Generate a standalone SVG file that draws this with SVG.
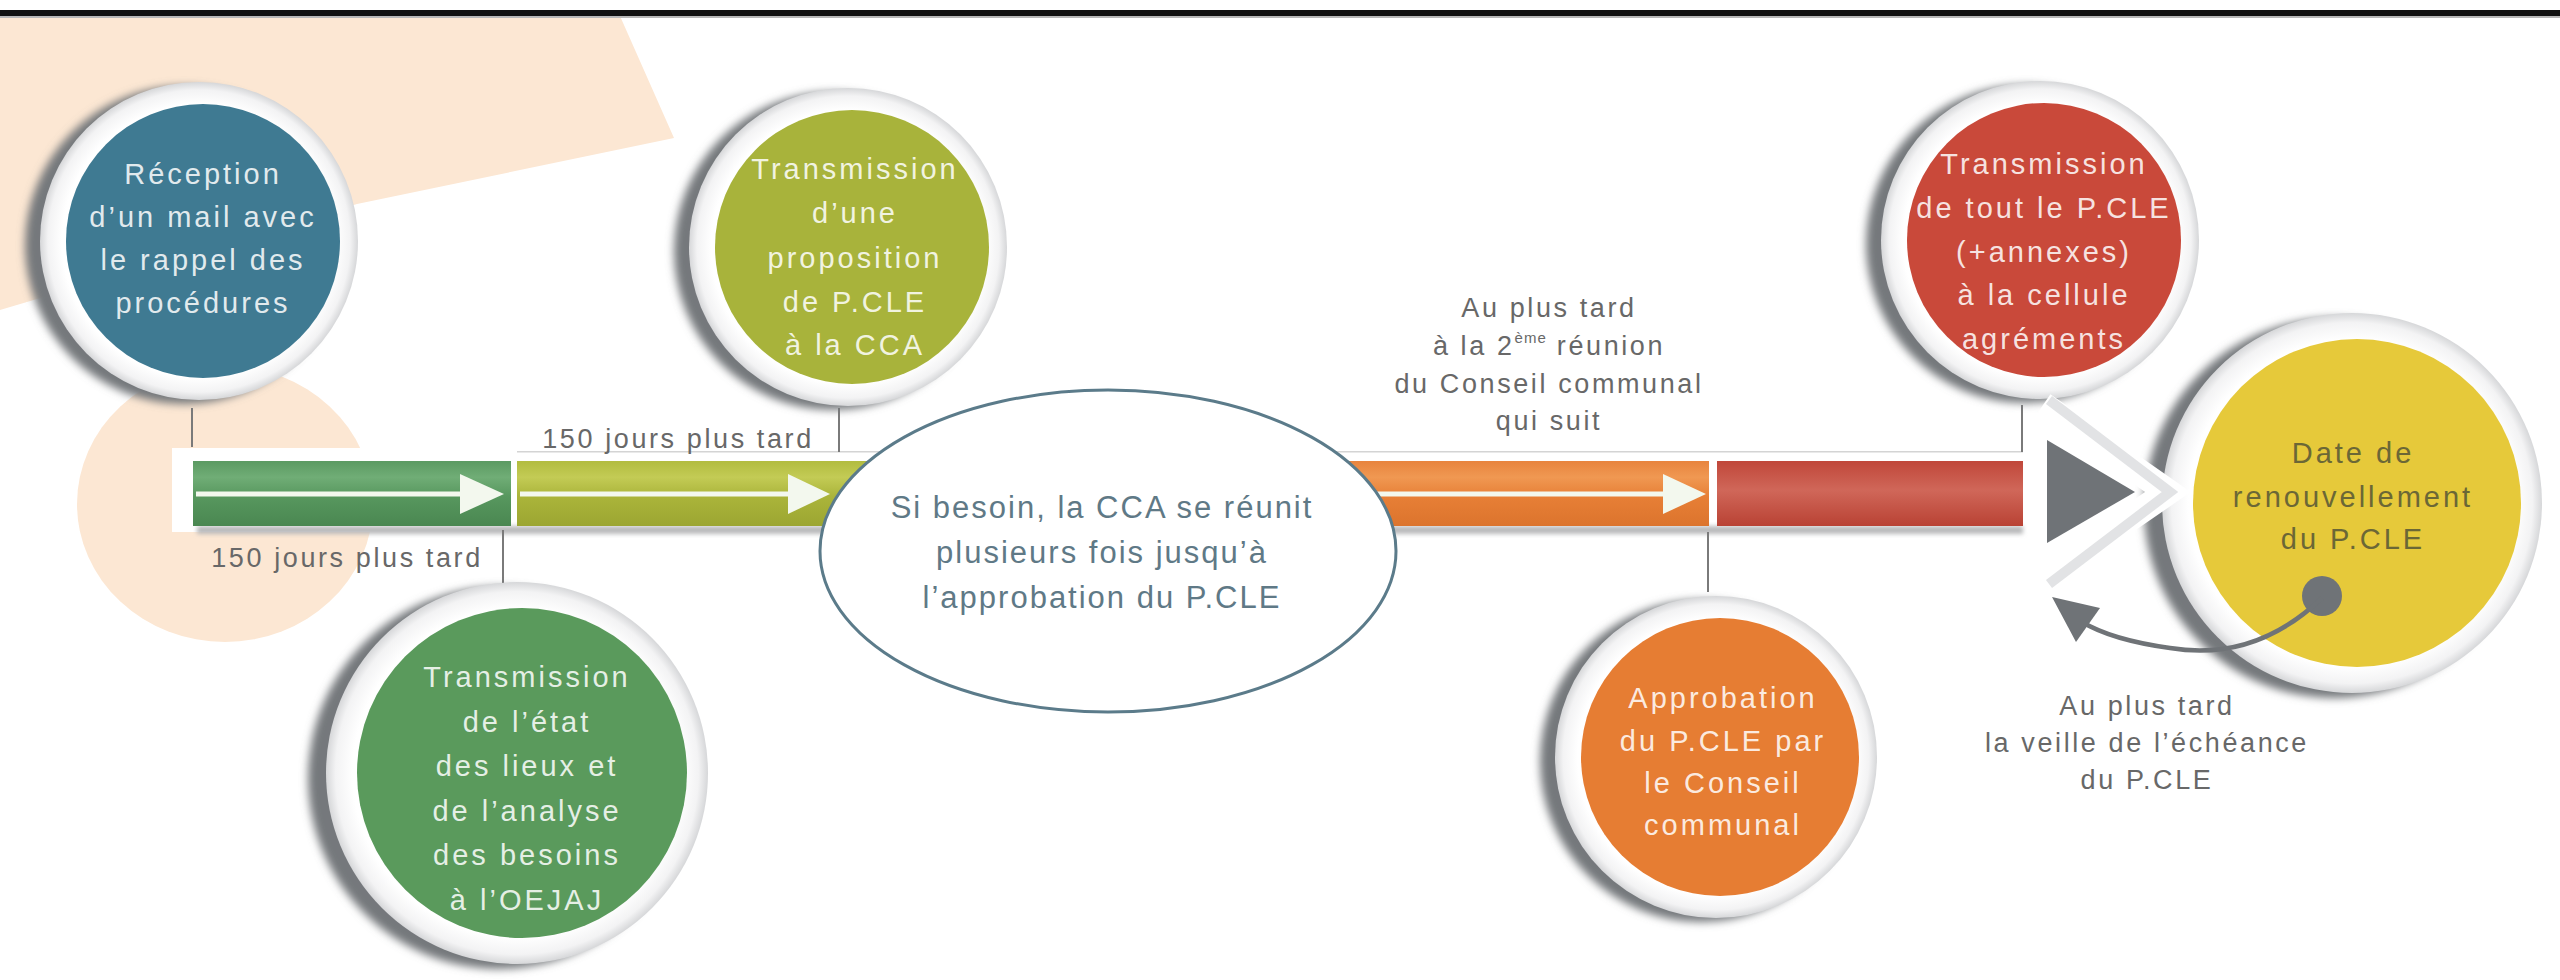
<svg xmlns="http://www.w3.org/2000/svg" width="2560" height="980" viewBox="0 0 2560 980">
<defs>
<style>
.lbl{font-family:"Liberation Sans",Arial,sans-serif;font-size:27px;letter-spacing:2.6px;fill:#686868;text-anchor:middle}
.ct{font-family:"Liberation Sans",Arial,sans-serif;font-size:29px;letter-spacing:3px;fill:#ffffff;fill-opacity:0.86;text-anchor:middle}
.yt{font-family:"Liberation Sans",Arial,sans-serif;font-size:29px;letter-spacing:3px;fill:#6b6736;text-anchor:middle}
.et{font-family:"Liberation Sans",Arial,sans-serif;font-size:31px;letter-spacing:2px;fill:#5f7986;text-anchor:middle}
.shadow{fill:#75787b;filter:url(#blur)}
.ring{fill:url(#ringG)}
.tick{stroke:#7a7a7a;stroke-width:2;fill:none}
.arr{fill:#f3f8ee}
.arrl{stroke:#f3f8ee;stroke-width:5}
</style>
<filter id="blur" x="-20%" y="-20%" width="140%" height="140%"><feGaussianBlur stdDeviation="4"/></filter>
<filter id="blur2" x="-5%" y="-100%" width="110%" height="300%"><feGaussianBlur stdDeviation="2"/></filter>
<radialGradient id="ringG" cx="0.5" cy="0.5" r="0.5">
<stop offset="0" stop-color="#ffffff"/><stop offset="0.86" stop-color="#ffffff"/><stop offset="0.95" stop-color="#f3f3f4"/><stop offset="1" stop-color="#d6d7d9"/>
</radialGradient>
<linearGradient id="gGreen" x1="0" y1="0" x2="0" y2="1"><stop offset="0" stop-color="#5b9a62"/><stop offset="0.25" stop-color="#70ad76"/><stop offset="0.55" stop-color="#57975e"/><stop offset="1" stop-color="#4a8751"/></linearGradient>
<linearGradient id="gLime" x1="0" y1="0" x2="0" y2="1"><stop offset="0" stop-color="#b2bc3f"/><stop offset="0.25" stop-color="#c3cb55"/><stop offset="0.55" stop-color="#aab43a"/><stop offset="1" stop-color="#9ca632"/></linearGradient>
<linearGradient id="gOrange" x1="0" y1="0" x2="0" y2="1"><stop offset="0" stop-color="#e8843e"/><stop offset="0.25" stop-color="#f09852"/><stop offset="0.55" stop-color="#e77f36"/><stop offset="1" stop-color="#dc742d"/></linearGradient>
<linearGradient id="gRed" x1="0" y1="0" x2="0" y2="1"><stop offset="0" stop-color="#c0473a"/><stop offset="0.45" stop-color="#d06759"/><stop offset="1" stop-color="#b94234"/></linearGradient>
</defs>

<rect x="0" y="0" width="2560" height="980" fill="#ffffff"/>

<g id="background">
<polygon points="0,16 620,16 674,138 357,204 0,310" fill="#fce7d3"/>
<ellipse cx="225" cy="504" rx="148" ry="138" fill="#fce7d3"/>
<rect x="0" y="10" width="2560" height="6" fill="#111111"/>
<rect x="0" y="16" width="2560" height="2" fill="#b8b8b8"/>
</g>

<g id="timeline">
<rect x="172" y="448" width="1858" height="84" fill="#ffffff"/>
<rect x="517" y="451" width="1506" height="1.5" fill="#d4d4d4"/>
<rect x="197" y="526" width="1826" height="8" fill="#b9babb" filter="url(#blur2)"/>
<rect x="193" y="461" width="318" height="65" fill="url(#gGreen)"/>
<rect x="517" y="461" width="360" height="65" fill="url(#gLime)"/>
<rect x="1340" y="461" width="369" height="65" fill="url(#gOrange)"/>
<rect x="1717" y="461" width="306" height="65" fill="url(#gRed)"/>
<line class="arrl" x1="196" y1="494" x2="462" y2="494"/>
<polygon class="arr" points="460,474 504,494 460,514"/>
<line class="arrl" x1="520" y1="494" x2="790" y2="494"/>
<polygon class="arr" points="788,474 830,494 788,514"/>
<line class="arrl" x1="1345" y1="494" x2="1665" y2="494"/>
<polygon class="arr" points="1663,474 1706,494 1663,514"/>
</g>

<g id="connectors">
<line class="tick" x1="192" y1="408" x2="192" y2="447"/>
<line class="tick" x1="839" y1="408" x2="839" y2="452"/>
<line class="tick" x1="503" y1="530" x2="503" y2="583"/>
<line class="tick" x1="1708" y1="532" x2="1708" y2="592"/>
<line class="tick" x1="2022" y1="405" x2="2022" y2="452"/>
</g>

<g id="labels">
<text class="lbl" x="678" y="448">150 jours plus tard</text>
<text class="lbl" x="347" y="567">150 jours plus tard</text>
<text class="lbl" x="1549" y="317">Au plus tard</text>
<text class="lbl" x="1549" y="355">à la 2<tspan font-size="15" dy="-12" letter-spacing="1">ème</tspan><tspan dy="12"> réunion</tspan></text>
<text class="lbl" x="1549" y="393">du Conseil communal</text>
<text class="lbl" x="1549" y="430">qui suit</text>
<text class="lbl" x="2147" y="715">Au plus tard</text>
<text class="lbl" x="2147" y="752">la veille de l’échéance</text>
<text class="lbl" x="2147" y="789">du P.CLE</text>
</g>

<g id="n-reception">
<circle class="shadow" cx="184" cy="245" r="159"/>
<circle class="ring" cx="199" cy="241" r="159"/>
<circle cx="203" cy="241" r="137" fill="#3f7a92"/>
<text class="ct" x="203" y="184">Réception</text>
<text class="ct" x="203" y="227">d’un mail avec</text>
<text class="ct" x="203" y="270">le rappel des</text>
<text class="ct" x="203" y="313">procédures</text>
</g>

<g id="n-etat-des-lieux">
<circle class="shadow" cx="499" cy="778" r="191"/>
<circle class="ring" cx="517" cy="773" r="191"/>
<circle cx="522" cy="773" r="165" fill="#5a9a5c"/>
<text class="ct" x="527" y="687">Transmission</text>
<text class="ct" x="527" y="732">de l’état</text>
<text class="ct" x="527" y="776">des lieux et</text>
<text class="ct" x="527" y="821">de l’analyse</text>
<text class="ct" x="527" y="865">des besoins</text>
<text class="ct" x="527" y="910">à l’OEJAJ</text>
</g>

<g id="n-proposition">
<circle class="shadow" cx="833" cy="251" r="159"/>
<circle class="ring" cx="848" cy="247" r="159"/>
<circle cx="852" cy="247" r="137" fill="#a8b33b"/>
<text class="ct" x="855" y="179">Transmission</text>
<text class="ct" x="855" y="223">d’une</text>
<text class="ct" x="855" y="268">proposition</text>
<text class="ct" x="855" y="312">de P.CLE</text>
<text class="ct" x="855" y="355">à la CCA</text>
</g>

<g id="n-cca">
<ellipse cx="1108" cy="551" rx="288" ry="161" fill="#ffffff" stroke="#5b7b8a" stroke-width="3"/>
<text class="et" x="1102" y="518">Si besoin, la CCA se réunit</text>
<text class="et" x="1102" y="563">plusieurs fois jusqu’à</text>
<text class="et" x="1102" y="608">l’approbation du P.CLE</text>
</g>

<g id="n-approbation">
<circle class="shadow" cx="1701" cy="761" r="161"/>
<circle class="ring" cx="1716" cy="757" r="161"/>
<circle cx="1720" cy="757" r="139" fill="#e67d33"/>
<text class="ct" x="1723" y="708">Approbation</text>
<text class="ct" x="1723" y="751">du P.CLE par</text>
<text class="ct" x="1723" y="793">le Conseil</text>
<text class="ct" x="1723" y="835">communal</text>
</g>

<g id="n-transmission-agrements">
<circle class="shadow" cx="2025" cy="244" r="159"/>
<circle class="ring" cx="2040" cy="240" r="159"/>
<circle cx="2044" cy="240" r="137" fill="#c9493a"/>
<text class="ct" x="2044" y="174">Transmission</text>
<text class="ct" x="2044" y="218">de tout le P.CLE</text>
<text class="ct" x="2044" y="262">(+annexes)</text>
<text class="ct" x="2044" y="305">à la cellule</text>
<text class="ct" x="2044" y="349">agréments</text>
</g>

<g id="n-renouvellement">
<circle class="shadow" cx="2334" cy="508" r="190"/>
<circle class="ring" cx="2352" cy="503" r="190"/>
<circle cx="2357" cy="503" r="164" fill="#e6c93a"/>
<text class="yt" x="2353" y="463">Date de</text>
<text class="yt" x="2353" y="507">renouvellement</text>
<text class="yt" x="2353" y="549">du P.CLE</text>
</g>

<g id="end-marker">
<polyline points="2043,405 2168,492 2043,578" fill="none" stroke="#ffffff" stroke-width="26" stroke-linejoin="miter"/>
<polyline points="2049,400 2170,492 2049,584" fill="none" stroke="#e2e3e5" stroke-width="10" stroke-linejoin="miter"/>
<polygon points="2047,440 2135,492 2047,543" fill="#6f7377"/>
</g>

<g id="loop-arrow">
<circle cx="2322" cy="596" r="20" fill="#6f7377"/>
<path d="M2322,598 Q2255,662 2170,648 Q2112,640 2082,622" fill="none" stroke="#6f7377" stroke-width="4.5"/>
<polygon points="2052,597 2100,608 2076,642" fill="#6f7377"/>
</g>
</svg>
